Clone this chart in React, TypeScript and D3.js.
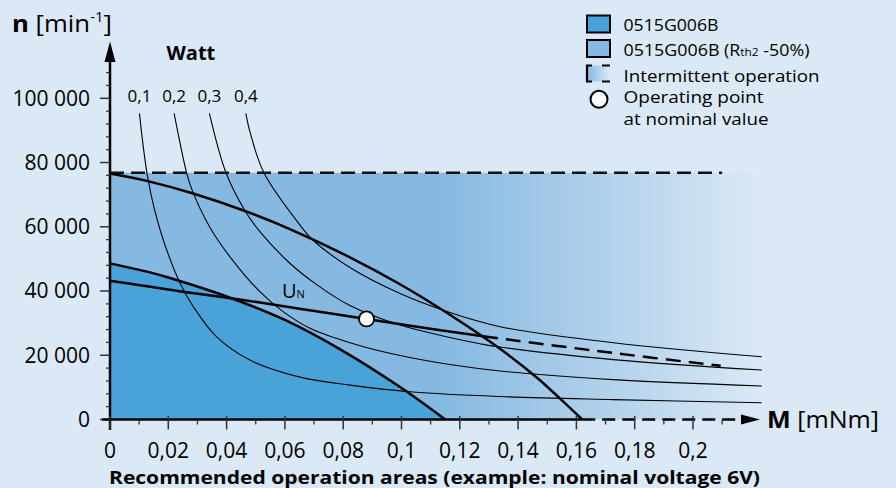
import React, { useRef, useEffect } from 'react';
import * as d3 from 'd3';

type Pt = [number, number];

// axis ticks
const torqueTicks = [0, 0.02, 0.04, 0.06, 0.08, 0.1, 0.12, 0.14, 0.16, 0.18, 0.2];
const torqueLabels = ['0', '0,02', '0,04', '0,06', '0,08', '0,1', '0,12', '0,14', '0,16', '0,18', '0,2'];
const torqueMinor = [0.01, 0.03, 0.05, 0.07, 0.09, 0.11, 0.13, 0.15, 0.17, 0.19, 0.21];
const speedTicks = [0, 20000, 40000, 60000, 80000, 100000];
const speedLabels = ['0', '20 000', '40 000', '60 000', '80 000', '100 000'];

// 0515G006B continuous operation limit
const motorArea: Pt[] = [
  [0, 48600], [0.0137, 45800], [0.02, 44200], [0.04, 38300], [0.06, 31000], [0.08, 21300], [0.1, 9800], [0.115, 0],
];
// 0515G006B (Rth2 -50%)
const motorAreaRth: Pt[] = [
  [0, 76600], [0.0126, 74300], [0.028, 70500], [0.0463, 64900], [0.0617, 59300], [0.0823, 50500],
  [0.0995, 42100], [0.1166, 32600], [0.1338, 22000], [0.1464, 13100], [0.1544, 6500], [0.162, 0],
];
// nominal voltage line U_N
const nominalSolid: Pt[] = [
  [0, 43200], [0.025, 39800], [0.045, 37300], [0.065, 34500], [0.088, 31300], [0.103, 29200], [0.128, 25900],
];
const nominalDashed: Pt[] = [[0.128, 25900], [0.17, 21000], [0.2095, 16700]];
const operatingPoint: Pt = [0.088, 31300];

// intermittent operation
const intermittentSpeed = 76800;
const intermittentEnd = 0.21;

// constant power lines (Watt)
const powerLabels = ['0,1', '0,2', '0,3', '0,4'];
const power01: Pt[] = [
  [0.0101, 95300], [0.0131, 74500], [0.0172, 59000], [0.024, 42500], [0.0286, 35100], [0.0366, 25700],
  [0.048, 18500], [0.0652, 13200], [0.0823, 10700], [0.1039, 8550], [0.1338, 7150], [0.1727, 6200], [0.2236, 5230],
];
const power02: Pt[] = [
  [0.022, 95300], [0.0263, 76700], [0.028, 71800], [0.0343, 59800], [0.0423, 49300], [0.0515, 39700],
  [0.0595, 33500], [0.0686, 28400], [0.0823, 23900], [0.0995, 19900], [0.1166, 17100], [0.1338, 15100],
  [0.1727, 12400], [0.2236, 10430],
];
const power03: Pt[] = [
  [0.0341, 95300], [0.0398, 76800], [0.0463, 65000], [0.0515, 58400], [0.0617, 48650], [0.0709, 42000],
  [0.0823, 35500], [0.0995, 29400], [0.1166, 25550], [0.1269, 23600], [0.1338, 22550], [0.1727, 18650],
  [0.2236, 15400],
];
const power04: Pt[] = [
  [0.0466, 95300], [0.048, 89600], [0.0528, 76800], [0.0652, 60500], [0.0692, 56200], [0.0823, 47300],
  [0.0995, 39200], [0.1166, 33300], [0.1338, 28900], [0.1727, 23900], [0.2236, 19550],
];
const powerCurves = [power01, power02, power03, power04];

const legendLabels = ['0515G006B', '0515G006B', 'Intermittent operation', 'Operating point', 'at nominal value'];

const BG = '#dbe8f5';
const DARK = '#4aa3d8';
const MID = '#85b9e1';
const FONT = '"Open Sans", "Noto Sans", sans-serif';

const App: React.FC = () => {
  const svgRef = useRef<SVGSVGElement | null>(null);

  useEffect(() => {
    const svg = d3.select(svgRef.current);
    svg.selectAll('*').remove();

    const x = d3.scaleLinear().domain([0, 0.2]).range([110, 693]);
    const y = d3.scaleLinear().domain([0, 100000]).range([419.5, 98.3]);

    svg.append('rect').attr('width', 896).attr('height', 488).attr('fill', BG);

    const defs = svg.append('defs');
    const fade = defs.append('linearGradient').attr('id', 'fade')
      .attr('gradientUnits', 'userSpaceOnUse').attr('x1', 440).attr('x2', 760).attr('y1', 0).attr('y2', 0);
    fade.append('stop').attr('offset', 0).attr('stop-color', MID);
    fade.append('stop').attr('offset', 1).attr('stop-color', BG);
    const fadeSmall = defs.append('linearGradient').attr('id', 'fadeSmall');
    fadeSmall.append('stop').attr('offset', 0).attr('stop-color', MID);
    fadeSmall.append('stop').attr('offset', 1).attr('stop-color', BG);

    // intermittent / Rth2 area
    svg.append('rect')
      .attr('x', x(0)).attr('y', y(intermittentSpeed))
      .attr('width', 770 - x(0)).attr('height', y(0) - y(intermittentSpeed))
      .attr('fill', 'url(#fade)');

    const smooth = d3.curveCatmullRom.alpha(0.5);
    const area = d3.area<Pt>().x(d => x(d[0])).y0(y(0)).y1(d => y(d[1])).curve(smooth);
    svg.append('path').attr('d', area(motorArea)).attr('fill', DARK);

    const line = d3.line<Pt>().x(d => x(d[0])).y(d => y(d[1])).curve(smooth);

    // power lines
    powerCurves.forEach((c, i) => {
      svg.append('path').attr('d', line(c)).attr('fill', 'none').attr('stroke', '#000').attr('stroke-width', 1.1);
      svg.append('text').attr('x', x(c[0][0])).attr('y', 101.7).attr('text-anchor', 'middle')
        .attr('font-size', 17).text(powerLabels[i]);
    });
    svg.append('text').attr('x', 166.5).attr('y', 60).attr('font-size', 20).attr('font-weight', 'bold').text('Watt');

    // dashed intermittent limit
    svg.append('line')
      .attr('x1', x(0)).attr('x2', x(intermittentEnd))
      .attr('y1', y(intermittentSpeed)).attr('y2', y(intermittentSpeed))
      .attr('stroke', '#111').attr('stroke-width', 2.5).attr('stroke-dasharray', '14,7');

    svg.append('path').attr('d', line(motorArea)).attr('fill', 'none').attr('stroke', '#000').attr('stroke-width', 2.5);
    svg.append('path').attr('d', line(motorAreaRth)).attr('fill', 'none').attr('stroke', '#000').attr('stroke-width', 2.5);
    svg.append('path').attr('d', line(nominalSolid)).attr('fill', 'none').attr('stroke', '#000').attr('stroke-width', 2.5);
    svg.append('path').attr('d', line(nominalDashed)).attr('fill', 'none').attr('stroke', '#000')
      .attr('stroke-width', 2.5).attr('stroke-dasharray', '15,8');

    svg.append('circle').attr('cx', x(operatingPoint[0])).attr('cy', y(operatingPoint[1])).attr('r', 7.5)
      .attr('fill', '#fff').attr('stroke', '#000').attr('stroke-width', 1.8);

    const un = svg.append('text').attr('x', 282).attr('y', 298.3).attr('font-size', 20);
    un.append('tspan').text('U');
    un.append('tspan').attr('font-size', 11).text('N');

    // y axis
    const yAxisX = x(0);
    svg.append('line').attr('x1', yAxisX).attr('x2', yAxisX).attr('y1', 430).attr('y2', 58)
      .attr('stroke', '#000').attr('stroke-width', 2.5);
    svg.append('path').attr('d', `M${yAxisX},41.5 L${yAxisX - 5.5},62 L${yAxisX + 5.5},62 Z`).attr('fill', '#000');
    d3.range(4000, 110000, 4000).filter(v => v % 20000 !== 0).forEach(v => {
      svg.append('line').attr('x1', yAxisX - 4).attr('x2', yAxisX).attr('y1', y(v)).attr('y2', y(v))
        .attr('stroke', '#333').attr('stroke-width', 1.3);
    });
    speedTicks.forEach((v, i) => {
      svg.append('line').attr('x1', yAxisX - 10).attr('x2', yAxisX).attr('y1', y(v)).attr('y2', y(v))
        .attr('stroke', '#333').attr('stroke-width', 1.5);
      svg.append('text').attr('x', 90).attr('y', y(v) + 7.3).attr('text-anchor', 'end')
        .attr('font-size', 21).text(speedLabels[i]);
    });
    const nt = svg.append('text').attr('x', 12).attr('y', 31.5).attr('font-size', 24)
      .attr('textLength', 100).attr('lengthAdjust', 'spacingAndGlyphs');
    nt.append('tspan').attr('font-weight', 'bold').text('n');
    nt.append('tspan').text(' [min');
    nt.append('tspan').attr('font-size', 14).attr('dy', -10).text('-1');
    nt.append('tspan').attr('dy', 10).text(']');

    // x axis
    const x0 = y(0);
    svg.append('line').attr('x1', 102).attr('x2', x(0.162)).attr('y1', x0).attr('y2', x0)
      .attr('stroke', '#000').attr('stroke-width', 2.5);
    svg.append('line').attr('x1', x(0.162)).attr('x2', 742).attr('y1', x0).attr('y2', x0)
      .attr('stroke', '#000').attr('stroke-width', 2.5).attr('stroke-dasharray', '13,7');
    svg.append('path').attr('d', `M741,${x0 - 5} L760,${x0} L741,${x0 + 5} Z`).attr('fill', '#000');
    torqueMinor.forEach(v => {
      svg.append('line').attr('x1', x(v)).attr('x2', x(v)).attr('y1', x0).attr('y2', x0 + 5)
        .attr('stroke', '#333').attr('stroke-width', 1.3);
    });
    torqueTicks.forEach((v, i) => {
      svg.append('line').attr('x1', x(v)).attr('x2', x(v)).attr('y1', x0 - 3.5).attr('y2', x0 + 10)
        .attr('stroke', '#333').attr('stroke-width', 1.5);
      svg.append('text').attr('x', x(v)).attr('y', 457.5).attr('text-anchor', 'middle')
        .attr('font-size', 21).text(torqueLabels[i]);
    });
    const mt = svg.append('text').attr('x', 767).attr('y', 428).attr('font-size', 23)
      .attr('textLength', 112).attr('lengthAdjust', 'spacingAndGlyphs');
    mt.append('tspan').attr('font-weight', 'bold').text('M');
    mt.append('tspan').text(' [mNm]');

    svg.append('text').attr('x', 109).attr('y', 484).attr('font-size', 17.5).attr('font-weight', 'bold')
      .attr('textLength', 651).attr('lengthAdjust', 'spacingAndGlyphs')
      .text('Recommended operation areas (example: nominal voltage 6V)');

    // legend
    const lx = 587;
    svg.append('rect').attr('x', lx).attr('y', 15.5).attr('width', 23).attr('height', 17)
      .attr('fill', DARK).attr('stroke', '#000').attr('stroke-width', 2);
    svg.append('rect').attr('x', lx).attr('y', 40).attr('width', 23).attr('height', 17)
      .attr('fill', MID).attr('stroke', '#000').attr('stroke-width', 2);
    svg.append('rect').attr('x', lx).attr('y', 65.5).attr('width', 23).attr('height', 16)
      .attr('fill', 'url(#fadeSmall)');
    svg.append('path')
      .attr('d', `M${lx + 5},65.5 H${lx} V81.5 H${lx + 5} M${lx + 15},65.5 H${lx + 23} M${lx + 15},81.5 H${lx + 23}`)
      .attr('fill', 'none').attr('stroke', '#000').attr('stroke-width', 2.2);
    svg.append('circle').attr('cx', 599).attr('cy', 99.3).attr('r', 8.5)
      .attr('fill', '#fff').attr('stroke', '#000').attr('stroke-width', 2);

    const tx = 623.5;
    const legendText = (t: string, yy: number, len: number, fs = 16.5) =>
      svg.append('text').attr('x', tx).attr('y', yy).attr('font-size', fs)
        .attr('textLength', len).attr('lengthAdjust', 'spacingAndGlyphs').text(t);
    legendText(legendLabels[0], 30.5, 95);
    const l2 = svg.append('text').attr('x', tx).attr('y', 55.5).attr('font-size', 16.5)
      .attr('textLength', 186).attr('lengthAdjust', 'spacingAndGlyphs');
    l2.append('tspan').text(legendLabels[1] + ' (R');
    l2.append('tspan').attr('font-size', 11).text('th2');
    l2.append('tspan').text(' -50%)');
    legendText(legendLabels[2], 81.5, 196);
    legendText(legendLabels[3], 103, 140, 16);
    legendText(legendLabels[4], 124.8, 145, 16);
  }, []);

  return (
    <svg
      ref={svgRef}
      width={896}
      height={488}
      style={{ position: 'absolute', left: 0, top: 0, display: 'block', fontFamily: FONT }}
    />
  );
};

export default App;
